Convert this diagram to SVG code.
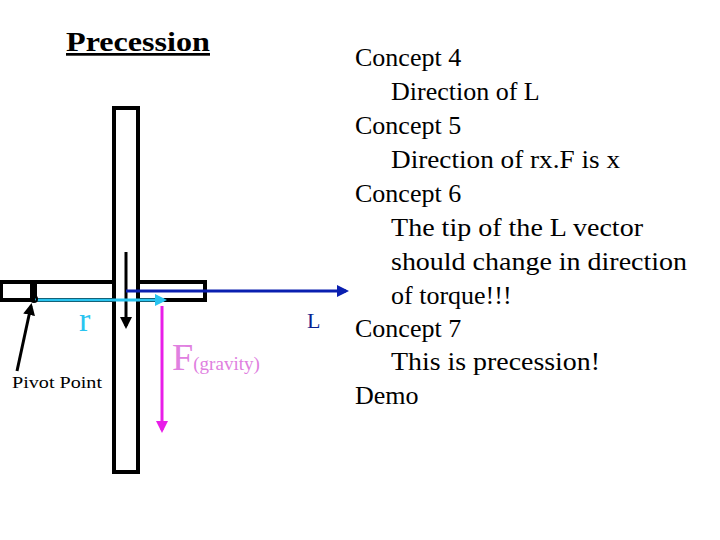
<svg xmlns="http://www.w3.org/2000/svg" width="720" height="540" viewBox="0 0 720 540">
<style>
.box{fill:none;stroke:#000;stroke-width:4}
.t{font-family:"Liberation Serif",serif}
.c{font-family:"Liberation Serif",serif;font-size:26px;fill:#000}
</style>
<defs>
<marker id="ak" markerWidth="4" markerHeight="4" refX="3" refY="2" orient="auto" markerUnits="strokeWidth"><path d="M0,0L4,2L0,4z" fill="#000"/></marker>
<marker id="ab" markerWidth="4" markerHeight="4" refX="3" refY="2" orient="auto" markerUnits="strokeWidth"><path d="M0,0L4,2L0,4z" fill="#0a1fb0"/></marker>
<marker id="ac" markerWidth="4" markerHeight="4" refX="3" refY="2" orient="auto" markerUnits="strokeWidth"><path d="M0,0L4,2L0,4z" fill="#29c4f0"/></marker>
<marker id="am" markerWidth="4" markerHeight="4" refX="3" refY="2" orient="auto" markerUnits="strokeWidth"><path d="M0,0L4,2L0,4z" fill="#e81ee8"/></marker>
</defs>
<g id="title"><text class="t" x="66" y="51" font-size="27" font-weight="bold" text-decoration="underline" textLength="144" lengthAdjust="spacingAndGlyphs">Precession</text></g>
<g id="gyro">
<rect class="box" x="114" y="108" width="24" height="364"/>
<rect class="box" x="1" y="282" width="31" height="18"/>
<path class="box" d="M114,282H35V300H114M138,282H205V300H138"/>
</g>
<g id="connectors">
<line x1="126" y1="252" x2="126" y2="326" stroke="#000" stroke-width="3" marker-end="url(#ak)"/>
<line x1="126" y1="291" x2="346" y2="291" stroke="#0a1fb0" stroke-width="3" marker-end="url(#ab)"/>
<line x1="35" y1="300" x2="164" y2="300" stroke="#29c4f0" stroke-width="3" marker-end="url(#ac)"/>
<line x1="162" y1="306" x2="162" y2="430" stroke="#e81ee8" stroke-width="3" marker-end="url(#am)"/>
<line x1="17" y1="371" x2="31" y2="306" stroke="#000" stroke-width="3" marker-end="url(#ak)"/>
<circle cx="34" cy="299" r="3" fill="none" stroke="#000" stroke-width="2"/>
</g>
<g id="labels">
<text class="t" x="79" y="331" font-size="34" fill="#29c4f0">r</text>
<text class="t" x="12" y="388" font-size="17" textLength="90" lengthAdjust="spacingAndGlyphs">Pivot Point</text>
<text class="t" x="172" y="370" font-size="38" fill="#e080e0" textLength="88" lengthAdjust="spacingAndGlyphs">F<tspan font-size="19">(gravity)</tspan></text>
<text class="t" x="307" y="328" font-size="22" fill="#0a1f90">L</text>
</g>
<g id="concepts" class="c">
<text x="355" y="66">Concept 4</text>
<text x="391" y="100">Direction of L</text>
<text x="355" y="134">Concept 5</text>
<text x="391" y="168" textLength="229" lengthAdjust="spacingAndGlyphs">Direction of rx.F is x</text>
<text x="355" y="202">Concept 6</text>
<text x="391" y="236" textLength="252" lengthAdjust="spacingAndGlyphs">The tip of the L vector</text>
<text x="391" y="270" textLength="296" lengthAdjust="spacingAndGlyphs">should change in direction</text>
<text x="391" y="304">of torque!!!</text>
<text x="355" y="337">Concept 7</text>
<text x="391" y="370" textLength="209" lengthAdjust="spacingAndGlyphs">This is precession!</text>
<text x="355" y="404">Demo</text>
</g>
</svg>
